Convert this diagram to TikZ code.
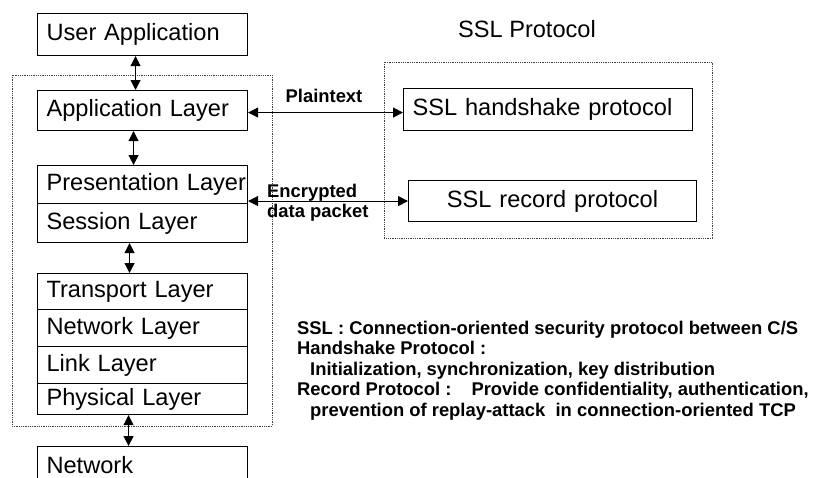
\documentclass[tikz,border=0pt]{standalone}
\usepackage{fontspec}
\setmainfont{Liberation Sans}
\usepackage{tikz}
\usetikzlibrary{arrows.meta,calc}
\newcommand{\boxfont}{\fontsize{23.6}{28}\selectfont}
\newcommand{\notefont}{\bfseries\fontsize{18.4}{20.4}\selectfont}

\begin{document}
\begin{tikzpicture}[x=1pt,y=-1pt]
\tikzstyle{layer}=[draw,line width=1.1pt,anchor=north west,text width=192pt,align=left,inner xsep=9pt,inner ysep=0pt,font=\boxfont,text height=17pt,text depth=5pt]
\tikzstyle{frame}=[densely dotted,line width=0.8pt,black!75]
\tikzstyle{link}=[{Triangle[length=10pt,width=10pt]}-{Triangle[length=10pt,width=10pt]},line width=1pt]
\tikzstyle{lbl}=[font=\notefont,inner sep=0pt]
\useasboundingbox (0,0) rectangle (814,477);
\clip (0,0) rectangle (814,477);

% Frames around the two stacks
\draw[frame] (12,75) rectangle (272,426);
\draw[frame] (384,62) rectangle (712,238);

% Layer stack
\node (UA) [layer,minimum height=42pt] at (37,13) {User Application};
\node (AL) [layer,minimum height=40pt] at (37,90) {Application Layer};
\node (PL) [layer,minimum height=38pt] at (37,165) {Presentation~Layer};
\node (SL) [layer,minimum height=39pt] at (37,203) {Session Layer};
\node (TL) [layer,minimum height=36pt] at (37,273) {Transport Layer};
\node (NL) [layer,minimum height=37pt] at (37,309) {Network Layer};
\node (LL) [layer,minimum height=37pt] at (37,346) {Link Layer};
\node (PhL) [layer,minimum height=31pt] at (37,383) {Physical Layer};
\node (Net) [layer,minimum height=42pt] at (37,446) {Network};

% SSL protocol side
\node (title) [font=\boxfont,anchor=base] at (527,37) {SSL Protocol};
\node (HS) [layer,text width=271pt,minimum height=42pt] at (403,88) {SSL handshake protocol};
\node (RP) [layer,text width=270pt,align=center,minimum height=41pt] at (408,180) {SSL record protocol};

\draw[link] ([xshift=-7pt]UA.south) -- ([xshift=-7pt]UA.south |- AL.north);
\draw[link] ([xshift=-9pt]AL.south) -- ([xshift=-9pt]AL.south |- PL.north);
\draw[link] ([xshift=-13pt]SL.south) -- ([xshift=-13pt]SL.south |- TL.north);
\draw[link] ([xshift=-14pt]PhL.south) -- ([xshift=-14pt]PhL.south |- Net.north);

\draw[link] ([yshift=-2pt]AL.east) -- ([yshift=-2pt]AL.east -| HS.west);
\draw[link] (RP.west -| PL.east) -- (RP.west);
\node (ptxt) [lbl,anchor=base] at (324,102.6) {Plaintext};
\node (enc) [lbl,align=left,anchor=west] at (267,203) {Encrypted\\data packet};

% Notes
\node (note) [lbl,align=left,anchor=north west] at (297,321) {SSL : Connection-oriented security protocol between C/S\\
Handshake Protocol :\\
\hspace*{13pt}Initialization, synchronization, key distribution\\
Record Protocol :\hspace{20pt}Provide confidentiality, authentication,\\
\hspace*{13pt}prevention of replay-attack\ \ in connection-oriented TCP};

\end{tikzpicture}
\end{document}
